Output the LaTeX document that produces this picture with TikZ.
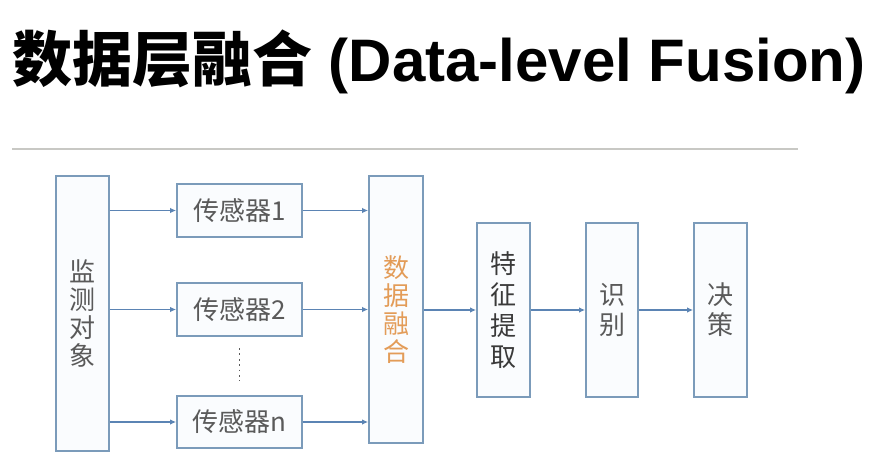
\documentclass[tikz,border=0pt]{standalone}
\usepackage{fontspec}
\usetikzlibrary{arrows.meta}
\newfontfamily\cjk{Noto Sans CJK SC}
\newfontfamily\latbold{Liberation Sans}
\definecolor{boxline}{HTML}{7B9BBA}
\definecolor{boxfill}{HTML}{FAFCFE}
\definecolor{arrowc}{HTML}{5B84B4}
\definecolor{txtgray}{HTML}{5A5A5A}
\definecolor{txtdark}{HTML}{3A3A3A}
\definecolor{orangetxt}{HTML}{E39C58}
\definecolor{rulec}{HTML}{C8C8C4}
\begin{document}
\begin{tikzpicture}[x=1pt,y=-1pt,
  blk/.style={draw=boxline, fill=boxfill, line width=1.8pt, inner sep=0pt, align=center,
    font=\cjk\fontsize{26}{28}\selectfont, text=txtgray},
  conn/.style={draw=arrowc, line width=1.7pt, -{Latex[length=6pt,width=5.5pt]}}]
\useasboundingbox (0,0) rectangle (891,474);
\fill[white] (0,0) rectangle (891,474);
% title
\node[anchor=base west, inner sep=0pt, text=black] (title) at (12,81)
  {\fontsize{60}{72}\selectfont{\cjk\bfseries 数据层融合}{\latbold\bfseries\ (Data-level Fusion)}};
% rule
\coordinate (r1) at (12,149);
\coordinate (r2) at (798,149);
\draw[rulec, line width=1.5pt] (r1) -- (r2);
% boxes
\node[blk, minimum width=53pt, minimum height=275pt] (obj) at (82.5,313.5) {监\\测\\对\\象};
\node[blk, minimum width=125pt, minimum height=53pt] (s1) at (239.5,210.5) {传感器1};
\node[blk, minimum width=125pt, minimum height=53pt] (s2) at (239.5,309.5) {传感器2};
\node[blk, minimum width=125pt, minimum height=52pt] (sn) at (239.5,422) {传感器n};
\node[blk, minimum width=54pt, minimum height=267pt, text=orangetxt] (fus) at (396,309.5) {数\\据\\融\\合};
\node[blk, minimum width=53pt, minimum height=174pt, text=txtdark, font=\cjk\fontsize{26}{31}\selectfont] (feat) at (503.5,310) {特\\征\\提\\取};
\node[blk, minimum width=52pt, minimum height=174pt, font=\cjk\fontsize{26}{30}\selectfont] (rec) at (612,310) {识\\别};
\node[blk, minimum width=53pt, minimum height=174pt, font=\cjk\fontsize{26}{30}\selectfont] (dec) at (720.5,310) {决\\策};
% dots
\coordinate (d1) at (239.5,348);
\coordinate (d2) at (239.5,381);
\draw[txtgray, line width=1.8pt, dash pattern=on 1.8pt off 3.6pt] (d1) -- (d2);
% connectors
\draw[conn] (s1.west -| obj.east) -- (s1.west);
\draw[conn] (s2.west -| obj.east) -- (s2.west);
\draw[conn] (sn.west -| obj.east) -- (sn.west);
\draw[conn] (s1.east) -- (s1.east -| fus.west);
\draw[conn] (s2.east) -- (s2.east -| fus.west);
\draw[conn] (sn.east) -- (sn.east -| fus.west);
\draw[conn] (feat.west -| fus.east) -- (feat.west);
\draw[conn] (feat.east) -- (rec.west);
\draw[conn] (rec.east) -- (dec.west);
\end{tikzpicture}
\end{document}
